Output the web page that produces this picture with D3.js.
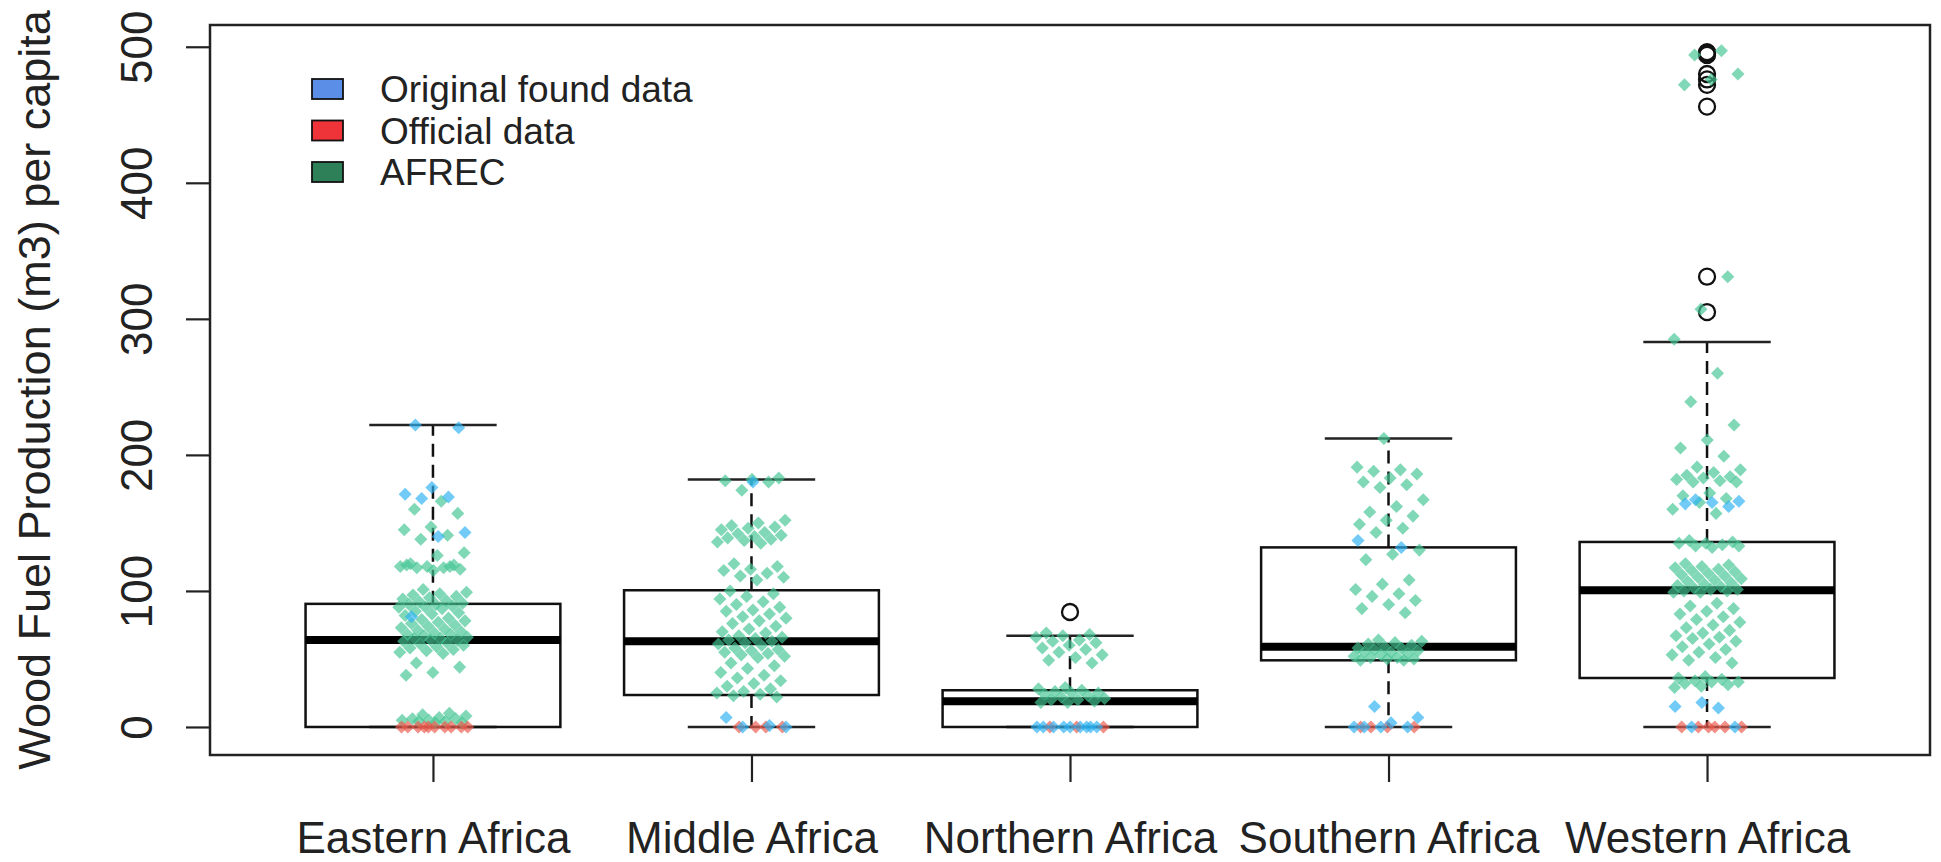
<!DOCTYPE html>
<html>
  <head>
    <style>
    body { margin: 0; background: #fff; }
    svg { display: block; font-family: "Liberation Sans", Arial, sans-serif; }
    </style>
    <script src="https://cdn.jsdelivr.net/npm/d3@7/dist/d3.min.js"></script>
  </head>
  <body>
    <script type="text/javascript">
    // categories
    var regions = ["Eastern Africa", "Middle Africa", "Northern Africa", "Southern Africa", "Western Africa"];

    // box statistics
    var whiskerLow = [0, 0, 0, 0, 0];
    var q1 = [0, 23.5, 0, 49, 36];
    var median = [64, 63, 19, 59, 100.5];
    var q3 = [90.5, 100.5, 27, 132, 136];
    var whiskerHigh = [222, 182, 67, 212, 283];
    var outliers = [[], [], [84.5], [], [496, 495, 494, 480, 476, 472, 456, 331, 305]];

    // jittered points, one array per region and source
    var afrec = [
      [166, 160, 157, 147, 145, 141, 138, 128, 126, 120, 119, 118, 118, 117, 117, 116, 115, 119, 118,
       101, 99, 98, 97, 96, 95, 94, 93, 92, 91, 90, 90, 89, 88, 88,
       87, 85, 84, 83, 82, 80, 79, 78, 77, 76, 75, 74, 73, 72, 71, 70, 69, 68, 68, 67, 66, 65, 65, 64, 64,
       63, 62, 61, 60, 59, 58, 57, 56, 55, 54, 47, 44, 40, 38,
       10, 9, 8, 7, 6, 6, 5, 5, 4, 4, 3, 3],
      [183, 182, 181, 180, 174, 152, 150, 148, 147, 146, 145, 143, 142, 141, 140, 139, 138, 137, 136, 135,
       120, 118, 116, 115, 113, 111, 110, 108, 100, 98, 96, 94, 92, 90, 88, 86, 85, 83, 81, 80, 78, 76, 74,
       72, 70, 69, 67, 66, 65, 64, 63, 62, 61, 60, 58, 57, 56, 55, 54, 53, 52, 51, 47, 45, 43, 40, 38, 36,
       34, 32, 30, 28, 26, 25, 24, 23, 22],
      [69, 68, 67, 66, 64, 63, 62, 60, 58, 57, 55, 53, 51, 49, 47, 29, 28, 27, 26, 25, 25, 24, 23, 22, 21,
       20, 20, 19, 18, 18],
      [212, 191, 189, 188, 186, 183, 180, 178, 176, 167, 162, 158, 155, 152, 149, 146, 143, 130, 127, 123,
       108, 105, 101, 98, 96, 93, 90, 87, 84, 64, 63, 62, 61, 60, 59, 58, 58, 57, 56, 55, 55, 54, 53, 52,
       51, 51, 50, 50, 49, 49],
      [497, 494, 480, 476, 472, 331, 307, 285, 260, 239, 222, 211, 205, 199, 191, 189, 187, 185, 184, 183,
       182, 181, 180, 180, 172, 170, 168, 165, 160, 157, 137, 136, 135, 135, 134, 133, 133, 132,
       120, 119, 118, 117, 116, 115, 114, 113, 112, 111, 110, 109, 108, 107, 106, 105, 104, 103, 102, 101,
       101, 100, 100, 99, 99, 91, 89, 87, 85, 83, 81, 79, 77, 75, 73, 71, 69, 67, 66, 65, 63, 61, 59, 57,
       55, 53, 51, 49, 47, 37, 36, 35, 34, 33, 33, 32, 31, 30, 29]
    ];
    var original = [
      [222, 220, 176, 171, 169, 168, 143, 140, 81],
      [180, 7, 1, 0, 0],
      [0, 0, 0, 0, 0, 0, 0, 0, 0],
      [137, 132, 15, 7, 3, 0, 0, 0, 0],
      [167, 166, 165, 164, 162, 18, 15, 14, 0, 0]
    ];
    var official = [
      [0, 0, 0, 0, 0, 0, 0, 0, 0, 0],
      [0, 0, 0, 0],
      [0, 0, 0],
      [0, 0, 0, 0],
      [0, 0, 0, 0, 0, 0]
    ];

    var sources = ["Original found data", "Official data", "AFREC"];
    var legendFill = ["#5b8ee6", "#ee3339", "#2e8059"];
    var pointFill = {"AFREC": "#46c693", "Official data": "#ec5a4c", "Original found data": "#2db2f2"};

    var width = 1941, height = 862;
    var svg = d3.select("body").append("svg")
      .attr("width", width)
      .attr("height", height);

    var x = d3.scaleLinear().domain([0.3, 5.7]).range([210, 1930]);
    var y = d3.scaleLinear().domain([-20.6, 516]).range([755, 25]);
    var half = (x(1.4) - x(1));      // box half width
    var staple = (x(1.2) - x(1));    // whisker cap half width

    var boxes = svg.append("g");
    regions.forEach(function(r, i) {
      var cx = x(i + 1);
      var g = boxes.append("g");
      // whiskers
      g.append("line").attr("x1", cx).attr("x2", cx)
        .attr("y1", y(q3[i])).attr("y2", y(whiskerHigh[i]))
        .attr("stroke", "#111").attr("stroke-width", 2.5).attr("stroke-dasharray", "13,8");
      g.append("line").attr("x1", cx).attr("x2", cx)
        .attr("y1", y(q1[i])).attr("y2", y(whiskerLow[i]))
        .attr("stroke", "#111").attr("stroke-width", 2.5).attr("stroke-dasharray", "13,8");
      // caps
      [whiskerHigh[i], whiskerLow[i]].forEach(function(v) {
        g.append("line").attr("x1", cx - staple).attr("x2", cx + staple)
          .attr("y1", y(v)).attr("y2", y(v))
          .attr("stroke", "#222").attr("stroke-width", 2.5);
      });
      // box
      g.append("rect")
        .attr("x", cx - half).attr("width", 2 * half)
        .attr("y", y(q3[i])).attr("height", y(q1[i]) - y(q3[i]))
        .attr("fill", "none").attr("stroke", "#111").attr("stroke-width", 2.5);
      g.append("line").attr("x1", cx - half).attr("x2", cx + half)
        .attr("y1", y(median[i])).attr("y2", y(median[i]))
        .attr("stroke", "#000").attr("stroke-width", 8);
      // outliers
      g.selectAll("circle").data(outliers[i]).enter().append("circle")
        .attr("cx", cx).attr("cy", function(d) { return y(d); })
        .attr("r", 8).attr("fill", "none").attr("stroke", "#111").attr("stroke-width", 2.3);
    });

    // jitter: fixed low-discrepancy offsets, +-0.11 category units
    function jit(i, k) {
      var f = ((i + 1) * 0.6180339887 + k * 0.2718) % 1;
      return (f - 0.5) * 0.22;
    }

    var diamond = d3.symbol().type(d3.symbolSquare).size(85);
    var pts = svg.append("g");
    var groups = [["AFREC", afrec, 0], ["Official data", official, 1], ["Original found data", original, 2]];
    groups.forEach(function(grp) {
      grp[1].forEach(function(vals, r) {
        pts.selectAll(null).data(vals).enter().append("path")
          .attr("d", diamond)
          .attr("transform", function(d, j) {
            return "translate(" + x(r + 1 + jit(j, grp[2] * 3 + r)) + "," + y(d) + ") rotate(45)";
          })
          .attr("fill", pointFill[grp[0]])
          .attr("fill-opacity", 0.68);
      });
    });

    // plot frame
    svg.append("rect")
      .attr("x", 210).attr("y", 25).attr("width", 1720).attr("height", 730)
      .attr("fill", "none").attr("stroke", "#222").attr("stroke-width", 2.5);

    // y axis
    var yAxis = svg.append("g")
      .attr("transform", "translate(210,0)")
      .call(d3.axisLeft(y).tickValues([0, 100, 200, 300, 400, 500]).tickSize(24).tickFormat(d3.format("d")));
    yAxis.select(".domain").remove();
    yAxis.selectAll("line").attr("stroke", "#222").attr("stroke-width", 2.2);
    yAxis.selectAll("text")
      .attr("x", null).attr("dy", null)
      .attr("transform", "translate(-58,0) rotate(-90)")
      .attr("text-anchor", "middle")
      .attr("font-size", 44).attr("fill", "#222")
      .style("font-family", "Liberation Sans, Arial, sans-serif");

    // x axis
    var xAxis = svg.append("g")
      .attr("transform", "translate(0,755)")
      .call(d3.axisBottom(x).tickValues([1, 2, 3, 4, 5]).tickSize(27)
        .tickFormat(function(d) { return regions[d - 1]; }));
    xAxis.select(".domain").remove();
    xAxis.selectAll("line").attr("stroke", "#222").attr("stroke-width", 2.2);
    xAxis.selectAll("text")
      .attr("y", 98).attr("dy", null)
      .attr("font-size", 44).attr("fill", "#222")
      .style("font-family", "Liberation Sans, Arial, sans-serif");

    // y title
    svg.append("text")
      .attr("transform", "translate(50," + ((25 + 755) / 2) + ") rotate(-90)")
      .attr("text-anchor", "middle")
      .attr("font-size", 45).attr("fill", "#222")
      .text("Wood Fuel Production (m3) per capita");

    // legend
    var legend = svg.append("g");
    sources.forEach(function(s, i) {
      var cy = 89 + i * 41.5;
      legend.append("rect")
        .attr("x", 312).attr("y", cy - 10).attr("width", 31).attr("height", 20)
        .attr("fill", legendFill[i]).attr("stroke", "#111").attr("stroke-width", 1.8);
      legend.append("text")
        .attr("x", 380).attr("y", cy + 13)
        .attr("font-size", 37).attr("fill", "#222")
        .text(s);
    });
    </script>
  </body>
</html>
